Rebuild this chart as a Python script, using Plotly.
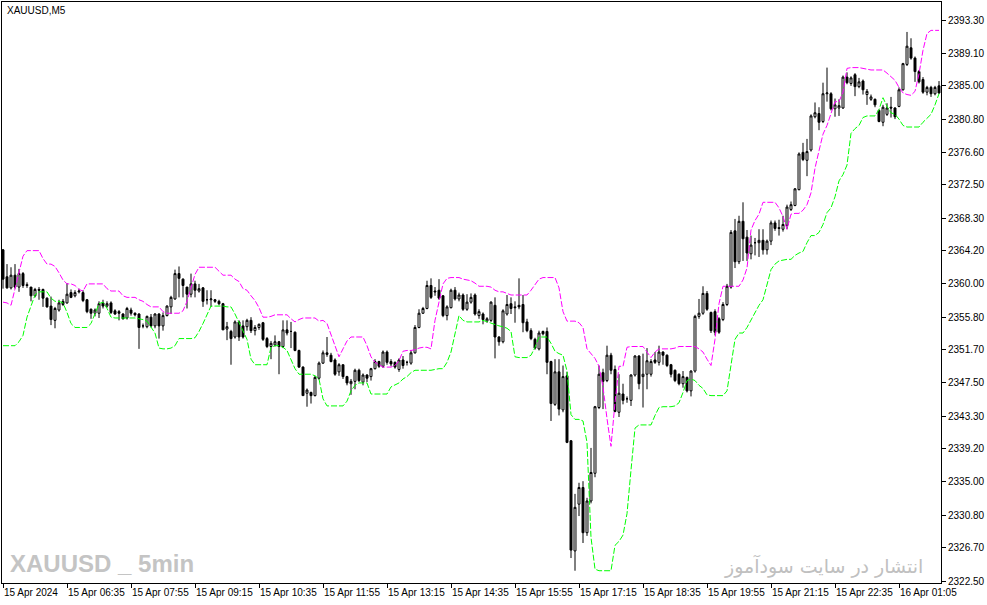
import plotly.graph_objects as go

# === OHLC per 5-minute bar ===
opens = [
    2364.3, 2360.9, 2359.5, 2361.1, 2359.6, 2361.3, 2359.9, 2359.6, 2358.5, 2359.3,
    2359.3, 2358.2, 2357.2, 2355.4, 2356.7, 2357.8, 2357.6, 2358.9, 2358.5, 2359.0,
    2358.9, 2358.0, 2356.8, 2356.3, 2356.3, 2357.6, 2357.2, 2357.6, 2356.6, 2356.5,
    2356.2, 2355.7, 2356.7, 2356.3, 2356.2, 2354.7, 2354.6, 2355.8, 2354.7, 2356.2,
    2354.7, 2356.0, 2357.1, 2358.1, 2361.3, 2360.6, 2359.6, 2358.7, 2360.0, 2359.1,
    2359.5, 2358.0, 2358.0, 2358.0, 2357.8, 2357.5, 2354.3, 2354.0, 2353.3, 2355.2,
    2354.7, 2354.6, 2355.4, 2354.1, 2354.5, 2355.1, 2353.1, 2352.1, 2352.3, 2352.7,
    2352.1, 2354.2, 2354.0, 2353.9, 2351.6, 2349.5, 2346.2, 2346.3, 2345.9, 2348.1,
    2350.0, 2351.3, 2351.0, 2350.4, 2348.9, 2349.8, 2348.3, 2347.4, 2347.7, 2349.1,
    2347.6, 2348.5, 2348.3, 2349.3, 2350.2, 2349.6, 2351.4, 2350.2, 2350.1, 2349.2,
    2350.4, 2350.1, 2350.0, 2351.3, 2354.5, 2356.3, 2356.9, 2359.8, 2359.1, 2359.2,
    2358.5, 2356.0, 2357.0, 2359.2, 2358.1, 2358.6, 2356.8, 2357.7, 2358.6, 2356.0,
    2356.2, 2355.3, 2355.4, 2357.3, 2353.3, 2352.7, 2356.2, 2357.5, 2357.1, 2357.3,
    2357.4, 2355.2, 2354.1, 2353.0, 2351.8, 2354.0, 2354.0, 2350.2, 2344.8, 2348.9,
    2344.1, 2348.4, 2340.2, 2326.3, 2332.2, 2334.3, 2328.6, 2332.6, 2336.1, 2344.4,
    2348.8, 2347.8, 2351.0, 2349.2, 2343.8, 2346.1, 2345.5, 2345.3, 2348.5, 2350.9,
    2348.3, 2348.6, 2348.6, 2350.4, 2350.1, 2351.4, 2351.0, 2349.8, 2349.1, 2348.6,
    2347.4, 2348.2, 2346.5, 2349.0, 2355.9, 2356.3, 2358.8, 2356.4, 2356.5, 2355.6,
    2355.5, 2357.4, 2359.6, 2366.7, 2362.8, 2367.9, 2365.9, 2363.8, 2365.2, 2365.2,
    2365.5, 2364.3, 2365.4, 2367.7, 2367.1, 2366.9, 2367.4, 2369.4, 2369.9, 2371.9,
    2376.6, 2375.6, 2376.9, 2381.1, 2381.5, 2380.5, 2384.0, 2384.0, 2382.1, 2382.2,
    2382.2, 2386.1, 2385.3, 2386.4, 2384.9, 2385.6, 2383.9, 2383.3, 2383.3, 2381.9,
    2380.4, 2381.4, 2382.3, 2382.2, 2382.4, 2384.5, 2387.7, 2389.8, 2388.5, 2386.8,
    2385.8, 2384.2, 2384.8, 2384.0, 2385.0,
]
highs = [
    2364.4, 2362.5, 2362.1, 2362.5, 2361.9, 2361.5, 2360.2, 2359.6, 2359.5, 2359.6,
    2359.4, 2358.3, 2358.4, 2357.1, 2358.0, 2358.1, 2360.1, 2359.3, 2359.2, 2359.4,
    2359.2, 2358.1, 2356.9, 2356.9, 2357.8, 2358.0, 2357.8, 2357.8, 2356.8, 2356.7,
    2356.3, 2357.1, 2357.0, 2356.4, 2356.3, 2355.0, 2356.0, 2356.2, 2356.3, 2356.3,
    2356.4, 2357.3, 2358.5, 2361.8, 2362.2, 2360.7, 2359.6, 2361.3, 2360.4, 2360.0,
    2359.6, 2359.2, 2359.2, 2358.1, 2358.0, 2357.6, 2355.2, 2354.2, 2355.4, 2355.4,
    2355.4, 2355.6, 2355.8, 2354.8, 2355.0, 2355.2, 2353.3, 2352.8, 2353.5, 2352.8,
    2355.4, 2355.4, 2355.2, 2354.0, 2351.7, 2349.6, 2346.8, 2346.4, 2348.4, 2350.2,
    2351.6, 2353.3, 2351.3, 2350.6, 2350.0, 2349.8, 2348.4, 2348.0, 2349.3, 2349.3,
    2348.7, 2348.6, 2349.4, 2350.5, 2350.3, 2351.6, 2351.6, 2350.5, 2350.2, 2350.6,
    2350.9, 2350.3, 2351.6, 2354.8, 2356.8, 2357.1, 2360.4, 2360.7, 2359.6, 2360.6,
    2358.6, 2357.3, 2359.4, 2359.6, 2358.9, 2358.8, 2358.7, 2358.8, 2358.8, 2356.8,
    2356.4, 2355.8, 2357.8, 2358.3, 2353.4, 2356.8, 2358.6, 2358.3, 2357.8, 2360.7,
    2358.6, 2355.6, 2354.4, 2353.2, 2354.1, 2354.1, 2354.5, 2350.3, 2350.5, 2350.5,
    2349.7, 2348.9, 2340.3, 2333.5, 2334.9, 2335.1, 2333.0, 2339.3, 2344.6, 2349.7,
    2349.3, 2352.2, 2351.3, 2349.7, 2348.6, 2347.4, 2345.8, 2348.6, 2351.0, 2351.0,
    2351.2, 2351.9, 2350.5, 2351.4, 2352.2, 2351.5, 2351.1, 2349.9, 2349.2, 2348.7,
    2349.0, 2348.3, 2349.1, 2356.1, 2358.1, 2359.7, 2359.1, 2356.5, 2356.8, 2355.8,
    2357.7, 2360.0, 2366.8, 2368.2, 2368.6, 2370.3, 2366.8, 2366.1, 2365.8, 2366.9,
    2366.9, 2365.6, 2368.0, 2368.0, 2368.1, 2368.6, 2370.0, 2370.4, 2372.1, 2376.6,
    2377.8, 2378.3, 2381.4, 2382.9, 2382.3, 2385.4, 2387.3, 2384.2, 2383.4, 2383.3,
    2386.3, 2386.7, 2386.2, 2386.6, 2386.0, 2385.8, 2384.6, 2383.9, 2383.4, 2382.0,
    2382.6, 2382.8, 2383.6, 2382.3, 2384.8, 2387.9, 2391.8, 2391.0, 2388.7, 2387.0,
    2386.1, 2385.0, 2385.0, 2385.0, 2385.6,
]
lows = [
    2359.4, 2359.4, 2359.3, 2359.4, 2359.0, 2359.5, 2359.5, 2357.8, 2358.3, 2358.0,
    2357.1, 2357.0, 2354.8, 2354.4, 2356.5, 2357.2, 2357.5, 2358.2, 2358.3, 2358.8,
    2357.7, 2356.3, 2355.6, 2355.9, 2355.7, 2356.9, 2357.0, 2356.2, 2356.1, 2355.4,
    2355.5, 2355.5, 2356.0, 2355.9, 2351.8, 2354.4, 2354.4, 2354.5, 2354.4, 2353.1,
    2354.1, 2355.9, 2356.2, 2358.0, 2358.3, 2358.3, 2356.9, 2358.3, 2358.3, 2358.9,
    2357.1, 2357.4, 2357.1, 2357.6, 2357.3, 2354.2, 2352.9, 2349.8, 2353.1, 2352.8,
    2353.1, 2354.1, 2353.8, 2353.5, 2354.2, 2352.8, 2351.9, 2350.5, 2352.1, 2348.6,
    2351.9, 2353.5, 2351.9, 2351.5, 2349.4, 2345.9, 2344.5, 2344.9, 2345.8, 2347.9,
    2349.9, 2350.8, 2350.1, 2348.4, 2348.4, 2348.0, 2347.2, 2346.0, 2346.7, 2347.6,
    2347.2, 2347.6, 2347.8, 2349.2, 2349.4, 2349.4, 2349.8, 2349.6, 2349.3, 2348.9,
    2349.3, 2349.7, 2349.8, 2351.2, 2354.4, 2356.2, 2356.8, 2358.1, 2358.5, 2358.0,
    2355.8, 2355.4, 2356.9, 2357.9, 2357.8, 2356.6, 2356.6, 2357.5, 2356.0, 2355.6,
    2354.9, 2355.1, 2355.2, 2350.6, 2352.2, 2352.5, 2356.0, 2356.2, 2355.1, 2356.8,
    2353.9, 2353.9, 2352.9, 2351.7, 2351.6, 2353.5, 2348.6, 2342.7, 2344.6, 2343.4,
    2343.8, 2339.9, 2325.4, 2323.8, 2330.7, 2327.3, 2328.2, 2332.3, 2335.6, 2344.2,
    2344.2, 2347.6, 2348.6, 2343.8, 2343.2, 2344.8, 2345.0, 2344.6, 2348.3, 2346.7,
    2344.4, 2346.7, 2348.3, 2349.9, 2349.7, 2349.8, 2349.5, 2348.2, 2347.6, 2347.2,
    2346.9, 2346.3, 2345.8, 2348.8, 2355.6, 2356.1, 2356.6, 2353.8, 2353.5, 2353.7,
    2355.3, 2357.2, 2359.4, 2362.0, 2362.5, 2362.9, 2362.9, 2363.1, 2363.6, 2363.4,
    2363.7, 2363.7, 2364.9, 2366.7, 2366.1, 2366.6, 2366.9, 2369.2, 2369.8, 2371.8,
    2375.5, 2373.6, 2376.7, 2380.9, 2379.4, 2380.3, 2383.0, 2381.9, 2381.1, 2381.2,
    2382.1, 2385.2, 2385.0, 2383.7, 2384.7, 2383.9, 2382.6, 2383.1, 2382.3, 2380.4,
    2379.9, 2381.2, 2381.0, 2380.8, 2382.3, 2384.4, 2387.5, 2388.3, 2385.5, 2385.3,
    2384.0, 2383.8, 2383.6, 2383.8, 2384.0,
]
closes = [
    2360.6, 2359.5, 2361.1, 2359.6, 2361.3, 2359.8, 2359.8, 2358.5, 2359.3, 2359.2,
    2358.2, 2357.1, 2355.5, 2356.9, 2357.6, 2357.4, 2358.7, 2358.3, 2358.9, 2359.1,
    2357.9, 2356.5, 2356.3, 2356.7, 2357.5, 2357.2, 2357.5, 2356.4, 2356.2, 2356.3,
    2355.6, 2356.9, 2356.3, 2356.1, 2354.5, 2354.7, 2355.9, 2354.7, 2356.2, 2354.7,
    2356.0, 2357.2, 2358.3, 2361.3, 2360.7, 2359.8, 2358.7, 2360.0, 2359.2, 2359.4,
    2357.8, 2358.0, 2358.1, 2357.8, 2357.5, 2354.2, 2354.6, 2353.1, 2355.2, 2353.3,
    2353.3, 2355.4, 2354.1, 2354.5, 2354.9, 2353.0, 2352.1, 2352.5, 2352.7, 2352.1,
    2354.2, 2353.8, 2354.0, 2351.6, 2349.5, 2345.9, 2346.6, 2345.9, 2348.2, 2350.0,
    2351.3, 2351.1, 2350.2, 2348.6, 2349.8, 2348.3, 2347.5, 2347.7, 2349.1, 2347.8,
    2348.5, 2348.1, 2349.3, 2350.2, 2349.6, 2351.4, 2350.1, 2349.9, 2349.5, 2350.4,
    2349.7, 2350.1, 2351.3, 2354.5, 2356.3, 2356.9, 2359.8, 2358.3, 2359.0, 2358.2,
    2356.0, 2357.1, 2359.2, 2358.1, 2358.6, 2356.8, 2357.7, 2358.3, 2356.2, 2356.5,
    2355.5, 2355.6, 2357.7, 2353.3, 2352.7, 2356.6, 2357.4, 2356.9, 2357.0, 2357.1,
    2355.1, 2354.1, 2353.1, 2351.9, 2353.8, 2353.7, 2350.1, 2344.9, 2348.9, 2344.2,
    2348.3, 2340.0, 2326.4, 2331.8, 2334.3, 2328.6, 2332.6, 2336.2, 2344.5, 2348.6,
    2347.7, 2351.0, 2349.1, 2343.9, 2346.2, 2345.3, 2345.5, 2348.5, 2350.9, 2347.4,
    2348.6, 2350.3, 2350.2, 2350.1, 2351.4, 2351.0, 2349.7, 2348.6, 2347.8, 2347.4,
    2348.3, 2346.5, 2349.0, 2355.9, 2356.3, 2358.8, 2356.8, 2354.1, 2353.9, 2353.9,
    2357.4, 2359.7, 2366.5, 2362.8, 2367.9, 2365.7, 2363.9, 2364.9, 2365.2, 2365.5,
    2364.3, 2365.4, 2367.7, 2367.0, 2367.0, 2367.5, 2369.7, 2370.0, 2372.0, 2376.4,
    2375.7, 2376.7, 2381.2, 2381.6, 2380.4, 2384.0, 2384.1, 2382.1, 2382.6, 2382.5,
    2386.1, 2385.4, 2386.0, 2384.9, 2385.5, 2384.5, 2384.3, 2383.6, 2382.6, 2380.5,
    2382.3, 2382.2, 2382.2, 2381.1, 2384.5, 2387.8, 2390.0, 2388.5, 2386.8, 2385.5,
    2384.2, 2384.8, 2384.0, 2384.8, 2384.1,
]

# === Channel lines (magenta upper, green lower) ===
upper = [
    2357.7, 2357.6, 2357.3, 2359.5, 2361.5, 2363.5, 2364.2, 2364.2, 2364.2, 2364.2,
    2363.2, 2362.5, 2362.5, 2362.2, 2361.4, 2360.5, 2360.0, 2360.0, 2359.8, 2359.3,
    2359.1, 2360.0, 2360.0, 2360.0, 2360.0, 2360.0, 2359.4, 2359.1, 2359.1, 2359.1,
    2358.5, 2358.3, 2358.3, 2358.3, 2358.0, 2357.8, 2357.4, 2357.1, 2357.1, 2357.1,
    2356.5, 2356.3, 2356.3, 2356.3, 2356.3, 2356.6, 2357.8, 2359.5, 2361.2, 2362.1,
    2362.1, 2362.1, 2362.1, 2362.1, 2361.6, 2361.1, 2361.1, 2361.1, 2360.6, 2360.3,
    2359.4, 2359.2, 2358.5, 2357.9, 2357.0, 2355.8, 2355.8, 2355.9, 2356.1, 2356.1,
    2356.1, 2356.1, 2355.6, 2355.2, 2355.5, 2355.7, 2355.7, 2355.7, 2355.7, 2355.3,
    2355.4, 2355.0, 2353.6, 2352.3, 2350.8, 2351.8, 2352.8, 2353.3, 2353.3, 2353.3,
    2353.3, 2352.2, 2350.8, 2350.1, 2349.8, 2349.5, 2349.5, 2349.5, 2349.7, 2350.3,
    2351.5, 2351.6, 2351.6, 2351.7, 2351.9, 2352.0, 2352.0, 2351.8, 2355.4, 2357.7,
    2360.0, 2360.7, 2360.8, 2360.8, 2360.8, 2360.6, 2360.5, 2360.4, 2360.1, 2359.7,
    2359.7, 2359.7, 2359.6, 2359.2, 2359.0, 2359.0, 2358.8, 2358.6, 2358.6, 2358.6,
    2358.6, 2358.6, 2359.2, 2359.9, 2360.6, 2360.8, 2360.8, 2360.8, 2360.8, 2359.5,
    2356.5, 2355.3, 2355.3, 2355.3, 2355.1, 2354.5, 2351.8, 2351.2, 2350.6, 2349.6,
    2347.0, 2343.0, 2339.5, 2345.0, 2349.6, 2349.6, 2352.0, 2352.1, 2352.1, 2352.1,
    2352.1, 2351.4, 2350.7, 2351.4, 2351.8, 2351.8, 2351.8, 2351.8, 2351.9, 2352.1,
    2352.1, 2352.1, 2352.1, 2352.1, 2351.8, 2351.4, 2350.5, 2349.7, 2353.0, 2357.5,
    2359.7, 2359.7, 2359.7, 2359.7, 2359.7, 2360.5, 2362.0, 2366.8, 2368.0, 2368.8,
    2370.3, 2370.3, 2370.3, 2370.3, 2369.6, 2368.5, 2366.9, 2368.8, 2368.9, 2368.9,
    2369.3, 2370.0, 2371.5, 2374.6, 2376.8, 2378.9, 2380.0, 2381.6, 2383.0, 2383.0,
    2384.2, 2387.2, 2387.3, 2387.3, 2387.3, 2387.2, 2387.1, 2387.0, 2387.0, 2387.0,
    2387.0, 2386.6, 2386.2, 2385.7, 2384.8, 2384.1, 2383.9, 2383.8, 2384.3, 2386.5,
    2389.5, 2391.6, 2392.0, 2392.0, 2392.0,
]
lower = [
    2352.2, 2352.2, 2352.2, 2352.2, 2352.7, 2353.5, 2355.8, 2357.3, 2358.6, 2359.0,
    2359.0, 2359.0, 2358.2, 2357.8, 2357.8, 2357.6, 2356.4, 2355.0, 2354.5, 2354.5,
    2354.5, 2354.5, 2355.0, 2356.2, 2357.5, 2357.7, 2356.9, 2355.8, 2355.7, 2355.7,
    2355.7, 2355.7, 2355.7, 2355.7, 2355.6, 2355.5, 2355.3, 2354.5, 2353.8, 2351.9,
    2351.8, 2351.8, 2351.9, 2352.2, 2353.1, 2353.1, 2353.1, 2353.1, 2353.2, 2354.0,
    2355.0, 2356.0, 2357.2, 2357.2, 2357.2, 2357.2, 2357.1, 2357.1, 2356.2, 2355.2,
    2354.2, 2353.0, 2350.5, 2349.8, 2349.8, 2349.8, 2349.8, 2352.0, 2352.2, 2352.2,
    2352.0, 2351.6, 2350.5, 2349.3, 2348.6, 2348.6, 2348.6, 2348.6, 2348.4, 2348.0,
    2345.5, 2344.6, 2344.6, 2344.6, 2344.6, 2344.6, 2345.2, 2346.5, 2347.2, 2347.5,
    2347.5, 2347.5, 2346.1, 2346.1, 2346.1, 2346.1, 2346.1, 2347.0, 2347.2, 2347.5,
    2348.0, 2348.3, 2348.8, 2349.1, 2349.1, 2349.1, 2349.1, 2349.1, 2349.2, 2349.3,
    2349.3, 2350.1, 2351.4, 2353.5, 2356.0, 2355.4, 2355.2, 2355.2, 2355.2, 2355.2,
    2355.4, 2355.2, 2355.0, 2354.8, 2354.7, 2354.6, 2354.4, 2354.0, 2350.8, 2350.7,
    2350.7, 2350.7, 2351.0, 2352.0, 2353.3, 2353.3, 2353.3, 2352.5, 2351.5, 2351.2,
    2351.0, 2349.0, 2343.5, 2342.9, 2342.9, 2342.7, 2340.0, 2328.0, 2324.0, 2323.8,
    2323.8, 2323.8, 2323.8, 2327.0, 2327.5, 2328.3, 2331.0, 2336.5, 2341.8, 2342.2,
    2342.2, 2342.2, 2342.2, 2343.4, 2344.4, 2344.5, 2344.5, 2344.5, 2344.6, 2345.0,
    2346.3, 2347.8, 2348.0, 2347.8, 2347.2, 2346.8, 2346.0, 2345.9, 2345.9, 2345.9,
    2345.9, 2346.5, 2349.5, 2353.0, 2353.8, 2353.8, 2354.5, 2355.5, 2356.5, 2357.3,
    2358.0, 2360.0, 2361.8, 2362.5, 2362.9, 2363.0, 2363.1, 2363.1, 2363.6, 2363.9,
    2364.1, 2365.2, 2366.1, 2366.1, 2366.5, 2367.5, 2369.0, 2369.6, 2371.0, 2373.0,
    2373.8, 2375.0, 2379.0, 2379.6, 2380.0, 2381.0, 2381.2, 2381.2, 2381.2, 2382.0,
    2383.5, 2382.4, 2381.6, 2381.4, 2380.8, 2380.0, 2379.8, 2379.8, 2379.8, 2379.8,
    2380.4, 2380.9, 2381.4, 2382.6, 2384.0,
]

# === Axis labels ===
time_tick_bars = [0, 16, 32, 48, 64, 80, 96, 112, 128, 144, 160, 176, 192, 208, 224]
time_tick_text = [
    "15 Apr 2024", "15 Apr 06:35", "15 Apr 07:55", "15 Apr 09:15", "15 Apr 10:35",
    "15 Apr 11:55", "15 Apr 13:15", "15 Apr 14:35", "15 Apr 15:55", "15 Apr 17:15",
    "15 Apr 18:35", "15 Apr 19:55", "15 Apr 21:15", "15 Apr 22:35", "16 Apr 01:05",
]
price_ticks = [
    2393.30, 2389.10, 2385.00, 2380.80, 2376.60, 2372.50, 2368.30, 2364.20, 2360.00,
    2355.80, 2351.70, 2347.50, 2343.30, 2339.20, 2335.00, 2330.80, 2326.70, 2322.50,
]

bars = list(range(len(opens)))

fig = go.Figure()

fig.add_trace(go.Candlestick(
    x=bars, open=opens, high=highs, low=lows, close=closes,
    increasing=dict(line=dict(color="black", width=1), fillcolor="white"),
    decreasing=dict(line=dict(color="black", width=1), fillcolor="black"),
    whiskerwidth=0,
    hoverinfo="skip",
))
fig.add_trace(go.Scatter(
    x=bars, y=upper, mode="lines",
    line=dict(color="#ff00ff", width=1, dash="6px,2px"),
    hoverinfo="skip",
))
fig.add_trace(go.Scatter(
    x=bars, y=lower, mode="lines",
    line=dict(color="#00ff00", width=1, dash="6px,2px"),
    hoverinfo="skip",
))

axis_font = dict(family="Liberation Sans, Arial, sans-serif", size=10, color="black")

fig.update_layout(
    width=987,
    height=605,
    margin=dict(l=2, r=46, t=2, b=22),
    paper_bgcolor="white",
    plot_bgcolor="white",
    showlegend=False,
    xaxis=dict(
        range=[-0.25, 234.5],
        tickvals=time_tick_bars,
        ticktext=time_tick_text,
        tickangle=0,
        ticks="outside", ticklen=4, tickcolor="black",
        ticklabelposition="outside right",
        tickfont=axis_font,
        showgrid=False, zeroline=False,
        showline=True, linecolor="black", linewidth=1, mirror=True,
        rangeslider=dict(visible=False),
    ),
    yaxis=dict(
        range=[2322.25, 2395.58],
        side="right",
        tickvals=price_ticks,
        ticktext=[f"{v:.2f}" for v in price_ticks],
        ticks="outside", ticklen=4, tickcolor="black",
        tickfont=axis_font,
        showgrid=False, zeroline=False,
        showline=True, linecolor="black", linewidth=1, mirror=True,
    ),
)

# symbol caption and watermarks
fig.add_annotation(
    text="XAUUSD,M5", xref="paper", yref="paper", x=0.003, y=0.986,
    xanchor="left", yanchor="middle", showarrow=False,
    font=dict(family="Liberation Sans, Arial, sans-serif", size=10, color="black"),
)
fig.add_annotation(
    text="<b>XAUUSD _ 5min</b>", xref="paper", yref="paper", x=0.006, y=0.034,
    xanchor="left", yanchor="middle", showarrow=False,
    font=dict(family="Liberation Sans Narrow, Liberation Sans, Arial, sans-serif",
              size=24, color="#c4c4c4"),
)
fig.add_annotation(
    text="انتشار در سایت سودآموز", xref="paper", yref="paper", x=0.983, y=0.03,
    xanchor="right", yanchor="middle", showarrow=False,
    font=dict(family="DejaVu Sans, sans-serif", size=19, color="#c0c0c0"),
)

# page body has a default 8px margin; drop it so the chart sits at the window corner
fig.write_html(
    "out.html",
    config={"displayModeBar": False},
    post_script="document.body.style.margin='0px';",
)
